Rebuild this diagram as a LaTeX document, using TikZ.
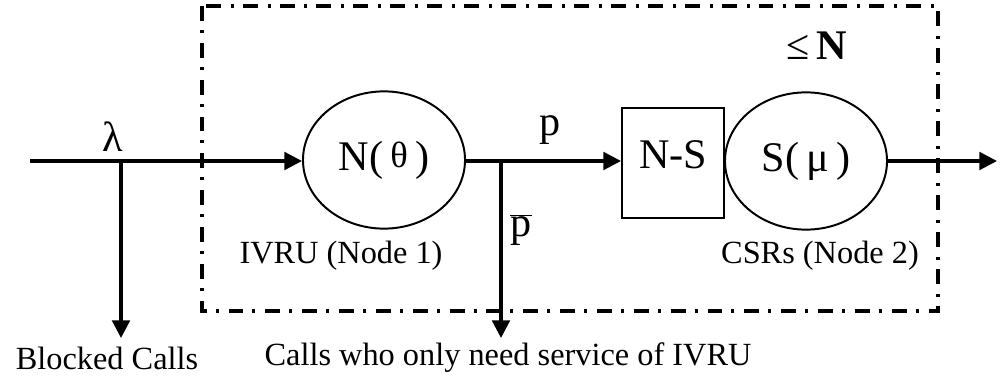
\documentclass[tikz,border=0pt]{standalone}
\usepackage{fontspec}
\setmainfont{Liberation Serif}
\usetikzlibrary{arrows.meta,shapes.geometric}

\begin{document}
\begin{tikzpicture}[
  x=0.025cm,y=-0.025cm,
  line/.style={draw=black,line width=2.3pt},
  flow/.style={line,-{Triangle[length=12.5pt,width=12.5pt]}},
  station/.style={ellipse,draw=black,line width=1.4pt,minimum width=4.05cm,minimum height=3.43cm,inner sep=0pt,font=\fontsize{30}{34}\selectfont},
  buffer/.style={rectangle,draw=black,line width=1.4pt,minimum width=2.55cm,minimum height=2.75cm,inner sep=0pt,text depth=0.4cm,font=\fontsize{30}{34}\selectfont},
  label/.style={font=\fontsize{23}{27}\selectfont},
  symbol/.style={font=\fontsize{30}{34}\selectfont},
  border/.style={draw=black,line width=2.2pt,dash pattern=on 10.6pt off 6.4pt on 2.1pt off 7.1pt},
]
\useasboundingbox (0,0) rectangle (1000,381);

% system boundary
\draw[border] (202,6) rectangle (938,311);

\node[station] (ivru) at (384,160) {N(\,{\fontsize{26}{30}\selectfont\raisebox{2pt}{θ}}\,)\hspace{0.8cm}};
\node[buffer] (ns) at (673,163) {N-S};
\node[station] (csr) at (806,161) {S(\,μ\,)};

\coordinate (in) at (30,161);
\coordinate (j1) at (121,161);
\coordinate (j2) at (501,161);
\coordinate (blocked) at (121,338);
\coordinate (only) at (501,338);
\coordinate (out) at (997,161);

\draw[flow] (in) -- (ivru.west |- in);
\draw[flow] (j1) -- (blocked);
\draw[flow] (ivru.east |- j2) -- (ns.west |- j2);
\draw[flow] (j2) -- (only);
\draw[flow] (csr.east |- out) -- (out);

\node[symbol] (lambda) at (113,137) {λ};
\node[symbol] (pin) at (550,130) {p};
\node[symbol] (pout) at (521,230) {$\overline{\mbox{p}}$};
\node[symbol] (cap) at (817,46) {≤\,\textbf{N}};

\node[label] (ivrulbl) at (341,256) {IVRU (Node 1)};
\node[label] (csrlbl) at (820,256) {CSRs (Node 2)};
\node[label] (blockedlbl) at (107,358) {Blocked Calls};
\node[label] (onlylbl) at (508,358) {Calls who only need service of IVRU};

\end{tikzpicture}
\end{document}
